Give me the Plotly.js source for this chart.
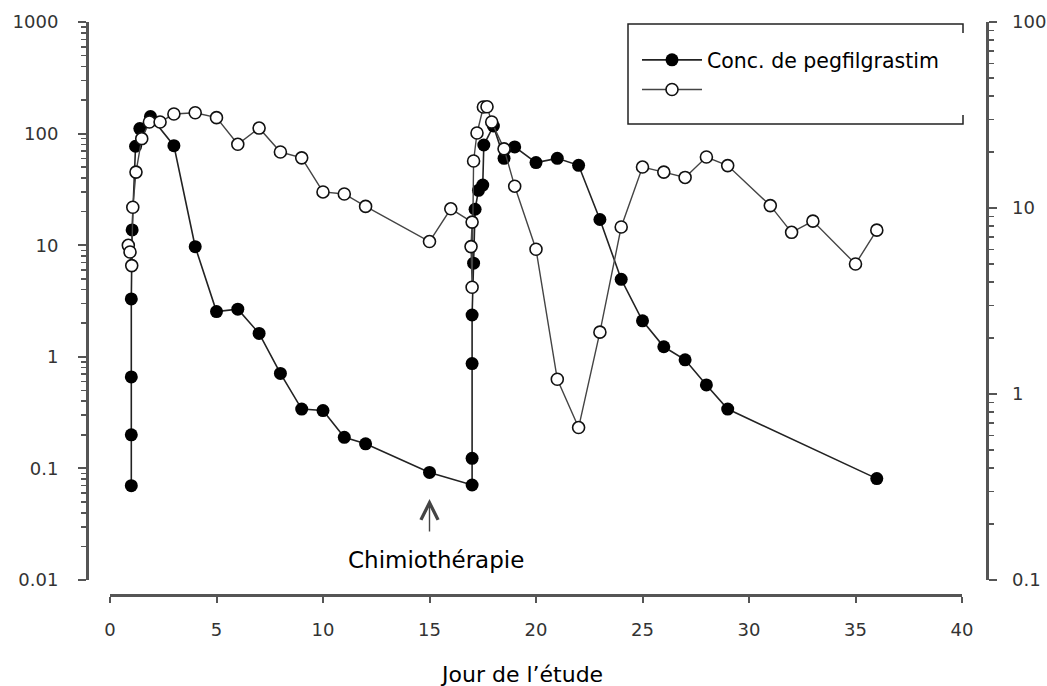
<!DOCTYPE html>
<html>
<head>
<meta charset="utf-8">
<script src="https://cdn.plot.ly/plotly-3.0.1.min.js"></script>
<style>html,body{margin:0;padding:0;background:#fff;}#chart{width:1047px;height:686px;}</style>
</head>
<body>
<div id="chart"></div>
<script>
// Pegfilgrastim concentration (left axis)
const concDays = [1, 1, 1, 1, 1.04, 1.2, 1.4, 1.9, 3, 4, 5, 6, 7, 8, 9, 10, 11, 12, 15,
  17, 17, 17, 17, 17.07, 17.14, 17.3, 17.5, 17.55, 18, 18.5, 19, 20, 21, 22, 23, 24, 25, 26, 27, 28, 29, 36];
const concValues = [0.07, 0.2, 0.66, 3.3, 13.7, 77, 111, 142, 78, 9.7, 2.54, 2.67, 1.62, 0.71, 0.34, 0.33, 0.19, 0.166, 0.092,
  0.071, 0.123, 0.87, 2.37, 6.9, 21, 31, 34.6, 79, 117, 60, 76, 55, 60, 52, 17, 4.95, 2.1, 1.23, 0.94, 0.56, 0.34, 0.081];

// Second series (right axis, open circles)
const ancDays = [0.86, 0.94, 1.02, 1.07, 1.22, 1.49, 1.85, 2.35, 3, 4, 5, 6, 7, 8, 9, 10, 11, 12, 15, 16,
  17, 16.95, 17, 17.07, 17.23, 17.53, 17.7, 17.92, 18.5, 19, 20, 21, 22, 23, 24, 25, 26, 27, 28, 29, 31, 32, 33, 35, 36];
const ancValues = [6.3, 5.8, 4.9, 10.1, 15.6, 23.6, 29, 29, 32, 32.5, 30.6, 22, 26.9, 20, 18.6, 12.2, 11.9, 10.2, 6.6, 9.9,
  8.4, 6.2, 3.75, 17.9, 25.3, 34.9, 35, 29, 20.8, 13.1, 6.0, 1.2, 0.66, 2.15, 7.9, 16.6, 15.6, 14.6, 18.8, 16.9, 10.3, 7.4, 8.5, 5.0, 7.6];

const xTicks = [0, 5, 10, 15, 20, 25, 30, 35, 40];
const leftTicks = [0.01, 0.1, 1, 10, 100, 1000];
const leftTickText = ['0.01', '0.1', '1', '10', '100', '1000'];
const rightTicks = [0.1, 1, 10, 100];
const rightTickText = ['0.1', '1', '10', '100'];

function minorLog(lo, hi) {
  const out = [];
  for (let d = lo; d < hi; d *= 10) for (let k = 2; k <= 9; k++) out.push(+(d * k).toPrecision(3));
  return out;
}

const W = 1047, H = 686;
const px = v => v / W, py = v => 1 - v / H;
const axisColor = '#555';
const tickFont = {family: 'DejaVu Sans, sans-serif', size: 18, color: '#333'};

const traces = [
  {
    x: concDays, y: concValues, type: 'scatter', mode: 'lines+markers',
    name: 'Conc. de pegfilgrastim', yaxis: 'y', cliponaxis: false,
    line: {color: '#222', width: 1.6},
    marker: {symbol: 'circle', size: 13, color: '#000', line: {color: '#000', width: 0}}
  },
  {
    x: ancDays, y: ancValues, type: 'scatter', mode: 'lines+markers',
    name: ' ', yaxis: 'y2', cliponaxis: false,
    line: {color: '#444', width: 1.4},
    marker: {symbol: 'circle', size: 12, color: '#fff', line: {color: '#111', width: 1.6}}
  }
];

const layout = {
  width: W, height: H,
  margin: {l: 0, r: 0, t: 0, b: 0},
  paper_bgcolor: '#fff', plot_bgcolor: 'rgba(0,0,0,0)',
  showlegend: true,
  legend: {
    x: px(637), y: py(40), xanchor: 'left', yanchor: 'top',
    bgcolor: 'rgba(0,0,0,0)', borderwidth: 0,
    font: {family: 'DejaVu Sans, sans-serif', size: 20.5, color: '#000'},
    itemwidth: 60, tracegroupgap: 0
  },
  xaxis: {
    domain: [px(110), px(962)], range: [0, 40],
    anchor: 'free', position: 1 - 595 / H,
    tickvals: xTicks, ticktext: xTicks.map(String),
    ticks: 'outside', ticklen: 6, tickwidth: 2, tickcolor: axisColor,
    showline: true, linecolor: axisColor, linewidth: 2.5,
    showgrid: false, zeroline: false, tickfont: tickFont, ticklabelstandoff: 12
  },
  yaxis: {
    type: 'log', range: [-2, 3],
    domain: [1 - 580 / H, 1 - 22 / H],
    anchor: 'free', position: px(87), side: 'left',
    tickvals: leftTicks, ticktext: leftTickText,
    ticks: 'outside', ticklen: 8, tickwidth: 2, tickcolor: axisColor,
    minor: {tickvals: minorLog(0.01, 1000), ticks: 'outside', ticklen: 5, tickwidth: 1.5, tickcolor: axisColor, showgrid: false},
    showline: true, linecolor: axisColor, linewidth: 2.5,
    showgrid: false, zeroline: false, tickfont: tickFont, ticklabelstandoff: 16
  },
  yaxis2: {
    type: 'log', range: [-1, 2],
    overlaying: 'y', anchor: 'free', position: px(987), side: 'right',
    tickvals: rightTicks, ticktext: rightTickText,
    ticks: 'outside', ticklen: 8, tickwidth: 2, tickcolor: axisColor,
    minor: {tickvals: minorLog(0.1, 100), ticks: 'outside', ticklen: 5, tickwidth: 1.5, tickcolor: axisColor, showgrid: false},
    showline: true, linecolor: axisColor, linewidth: 2.5,
    showgrid: false, zeroline: false, tickfont: tickFont, ticklabelstandoff: 12
  },
  shapes: [
    {type: 'path', xref: 'paper', yref: 'paper',
     path: `M ${px(963)},${py(33)} L ${px(963)},${py(24)} L ${px(628)},${py(24)} L ${px(628)},${py(124)} L ${px(963)},${py(124)} L ${px(963)},${py(115)}`,
     line: {color: '#222', width: 1.5}}
  ],
  annotations: [
    {xref: 'paper', yref: 'paper', x: px(521), y: py(674), text: 'Jour de l’étude', showarrow: false,
     font: {family: 'DejaVu Sans, sans-serif', size: 22, color: '#000'}, xanchor: 'center', yanchor: 'middle'},
    {xref: 'x', yref: 'paper', x: 15.3, y: py(560), text: 'Chimiothérapie', showarrow: false,
     font: {family: 'DejaVu Sans, sans-serif', size: 23, color: '#000'}, xanchor: 'center', yanchor: 'middle'},
    {xref: 'x', yref: 'paper', x: 15, y: py(499), ax: 0, ay: 34, text: '', showarrow: true,
     arrowhead: 5, arrowsize: 2.4, arrowwidth: 1.4, arrowcolor: '#444'}
  ]
};

Plotly.newPlot('chart', traces, layout, {displayModeBar: false, staticPlot: true});
</script>
</body>
</html>
